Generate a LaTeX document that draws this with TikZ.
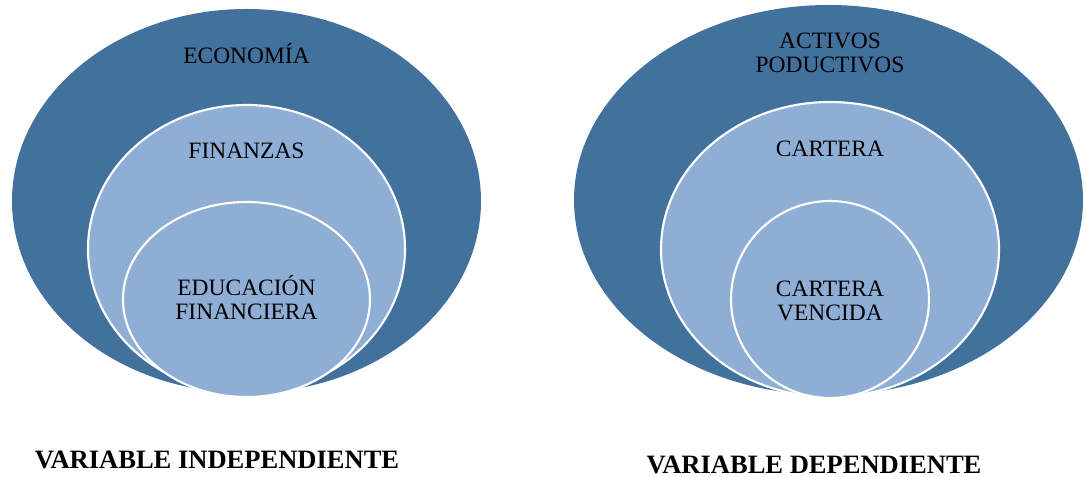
\documentclass[tikz,border=0pt]{standalone}
\usepackage{fontspec}
\setmainfont{Liberation Serif}
\usetikzlibrary{shapes.geometric}
\definecolor{darkblue}{RGB}{66,113,158}
\definecolor{lightblue}{RGB}{142,174,213}
\tikzset{
  outerell/.style={ellipse, fill=darkblue, draw=none, inner sep=0pt},
  innerell/.style={ellipse, fill=lightblue, draw=white, line width=1.6pt, inner sep=0pt},
  lbl/.style={font=\fontsize{17.6}{18}\selectfont, align=center, inner sep=0pt, anchor=base},
  title/.style={font=\bfseries\fontsize{19.9}{22}\selectfont, inner sep=0pt, anchor=base},
}
\begin{document}
\begin{tikzpicture}[x=0.75pt, y=-0.75pt]
\useasboundingbox (0,0) rectangle (1086,477);
% left
\node[outerell, minimum width=469*0.75pt, minimum height=384*0.75pt] (lo) at (246.5,201) {};
\node[innerell, minimum width=317*0.75pt, minimum height=288*0.75pt] (lm) at (246.5,249) {};
\node[innerell, minimum width=247*0.75pt, minimum height=195*0.75pt] (li) at (246.5,299.5) {};
\node[lbl] (t1) at (246.5,64) {ECONOMÍA};
\node[lbl] (t2) at (246.5,159) {FINANZAS};
\node[lbl] (t3) at (246.5,320) {EDUCACIÓN\\FINANCIERA};
\node[title] (v1) at (217,468) {VARIABLE INDEPENDIENTE};
% right
\node[outerell, minimum width=509*0.75pt, minimum height=390*0.75pt] (ro) at (828.5,200) {};
\node[innerell, minimum width=338*0.75pt, minimum height=295*0.75pt] (rm) at (830,249.5) {};
\node[innerell, minimum width=198*0.75pt, minimum height=197*0.75pt] (ri) at (830,299.5) {};
\node[lbl] (t4) at (830,72.7) {ACTIVOS\\PODUCTIVOS};
\node[lbl] (t5) at (830,156.7) {CARTERA};
\node[lbl] (t6) at (830,320.5) {CARTERA\\VENCIDA};
\node[title] (v2) at (814,473) {VARIABLE DEPENDIENTE};
\end{tikzpicture}
\end{document}
